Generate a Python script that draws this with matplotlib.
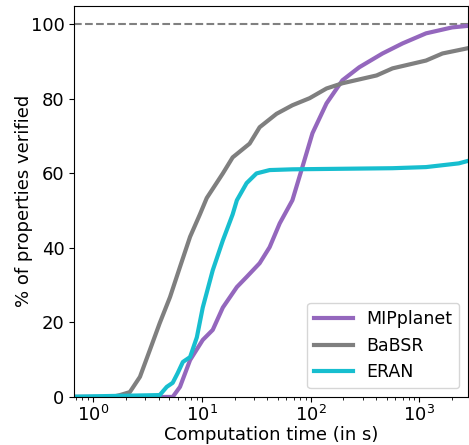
import matplotlib
matplotlib.use('Agg')
import matplotlib.pyplot as plt

# Cumulative % of properties verified vs. computation time (s)
mip_t = [0.5, 5.4, 6.3, 7.8, 10.2, 12.6, 15.6, 21, 25.8, 34, 42, 52, 68, 84, 104,
         140, 196, 280, 458, 700, 1150, 2000, 3000]
mip_y = [0, 0, 2.7, 9.9, 15.3, 18, 24, 29.5, 32.2, 35.9, 40.2, 46.6, 52.8, 61.7, 70.8,
         78.8, 85, 88.5, 92.2, 94.9, 97.6, 99.2, 99.7]

babsr_t = [0.5, 1.5, 1.77, 2.18, 2.7, 3.33, 4.1, 5.1, 6.3, 7.8, 9.6, 11.1, 15.6, 19.2,
           27.5, 34, 48.6, 68, 98, 140, 196, 404, 566, 1150, 1630, 3000]
babsr_y = [0, 0, 0.5, 1.3, 5.4, 12.6, 19.8, 26.8, 34.9, 43, 49, 53.4, 60, 64.3,
           68, 72.4, 76, 78.3, 80.2, 82.8, 84.2, 86.3, 88.2, 90.3, 92.2, 93.8]

eran_t = [0.5, 4.1, 4.76, 5.4, 6.0, 6.7, 7.8, 9.0, 10.2, 12.6, 15.6, 19.2, 21, 25.8,
          31.8, 42, 68, 566, 1150, 2300, 3000]
eran_y = [0, 0.5, 2.7, 3.8, 6.4, 9.4, 10.7, 16, 24, 34, 42, 49, 52.8, 57.4,
          60, 60.9, 61.1, 61.4, 61.7, 62.7, 63.6]

fig = plt.figure(figsize=(4.69, 4.45), dpi=100)
ax = fig.add_axes([0.158, 0.108, 0.84, 0.879])

ax.axhline(100, color='#808080', linestyle='--', linewidth=1.5)
ax.plot(mip_t, mip_y, color='#9467bd', linewidth=3, label='MIPplanet')
ax.plot(babsr_t, babsr_y, color='#7f7f7f', linewidth=3, label='BaBSR')
ax.plot(eran_t, eran_y, color='#17becf', linewidth=3, label='ERAN')

ax.set_xscale('log')
ax.set_xlim(0.67, 2800)
ax.set_ylim(0, 105)
ax.set_yticks([0, 20, 40, 60, 80, 100])
ax.tick_params(labelsize=13)
ax.tick_params(axis='x', pad=2)
ax.set_xlabel('Computation time (in s)', fontsize=13, labelpad=1)
ax.set_ylabel('% of properties verified', fontsize=13, labelpad=-2)
ax.legend(loc='lower right', fontsize=12.5, handlelength=2.2)

plt.savefig('out.png', dpi=100)
plt.close()
